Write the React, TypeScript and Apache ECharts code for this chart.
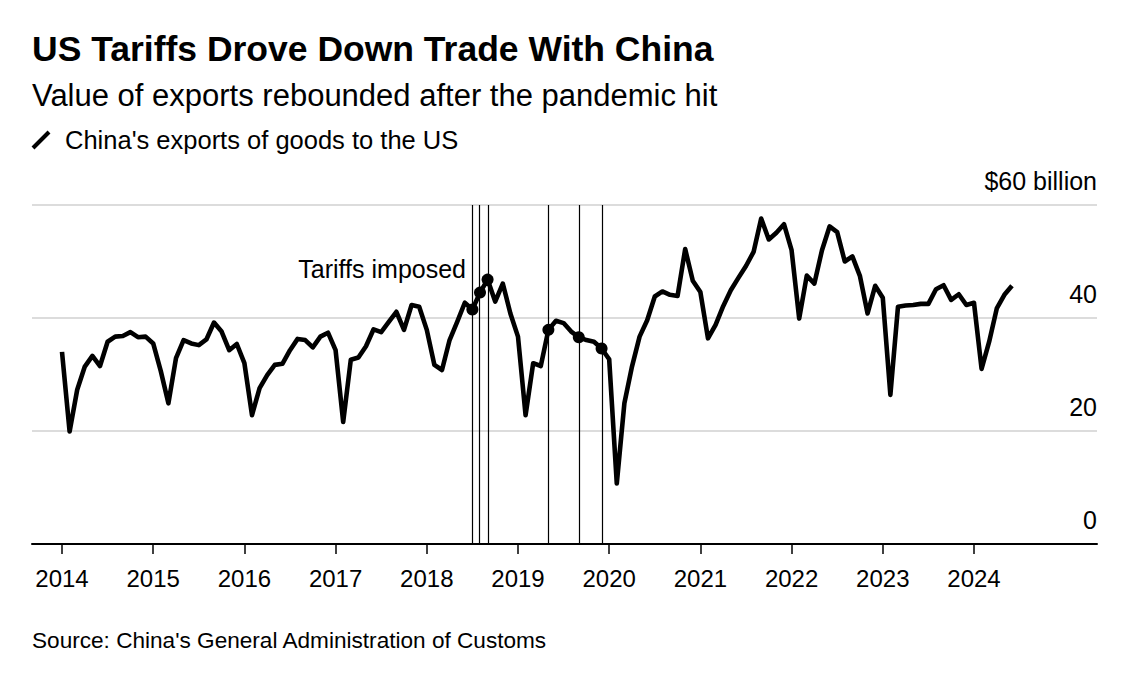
import React, { useEffect, useRef } from "react";
import * as echarts from "echarts";

// China's exports of goods to the US, $ billion, monthly (Jan..Dec)
const y2014 = [34.0, 19.9, 27.3, 31.4, 33.3, 31.5, 35.8, 36.7, 36.8, 37.5, 36.6, 36.7];
const y2015 = [35.5, 30.6, 24.9, 32.9, 36.1, 35.5, 35.2, 36.2, 39.2, 37.6, 34.3, 35.4];
const y2016 = [32.0, 22.8, 27.6, 29.9, 31.7, 31.9, 34.3, 36.3, 36.1, 34.8, 36.7, 37.4];
const y2017 = [34.3, 21.6, 32.6, 33.0, 35.0, 38.0, 37.5, 39.3, 41.1, 37.9, 42.3, 42.0];
const y2018 = [37.9, 31.7, 30.8, 36.1, 39.3, 42.7, 41.5, 44.5, 46.8, 42.9, 46.1, 40.8];
const y2019 = [36.7, 22.8, 32.0, 31.5, 37.9, 39.5, 39.1, 37.6, 36.6, 36.1, 35.8, 34.6];
const y2020 = [32.7, 10.7, 24.9, 31.4, 36.7, 39.6, 43.8, 44.7, 44.1, 43.9, 52.2, 46.6];
const y2021 = [44.6, 36.4, 38.8, 42.1, 44.9, 47.1, 49.2, 51.7, 57.6, 53.9, 55.1, 56.6];
const y2022 = [52.0, 39.9, 47.5, 46.1, 52.0, 56.2, 55.2, 50.0, 50.9, 47.4, 40.8, 45.7];
const y2023 = [43.6, 26.4, 42.0, 42.2, 42.3, 42.5, 42.5, 45.1, 45.8, 43.2, 44.2, 42.3];
const y2024 = [42.7, 31.0, 35.8, 41.7, 44.1, 45.7];

const years = [2014, 2015, 2016, 2017, 2018, 2019, 2020, 2021, 2022, 2023, 2024];
const yearly = [y2014, y2015, y2016, y2017, y2018, y2019, y2020, y2021, y2022, y2023, y2024];

// months when tariffs were imposed [year, month (1-12)]
const tariffMonths: [number, number][] = [
  [2018, 7], [2018, 8], [2018, 9], [2019, 5], [2019, 9], [2019, 12],
];

const yTicks = [0, 20, 40, 60];

const FONT = "'Liberation Sans', Arial, sans-serif";

export default function App() {
  const ref = useRef<HTMLDivElement>(null);
  useEffect(() => {
    if (!ref.current) return;
    const chart = echarts.init(ref.current, null, { renderer: "svg" });

    const lineData: [number, number][] = [];
    yearly.forEach((arr, yi) => {
      arr.forEach((v, m) => lineData.push([years[yi] + m / 12, v]));
    });
    const tariffX = tariffMonths.map(([y, m]) => y + (m - 1) / 12);
    const tariffPts = tariffMonths.map(([y, m]) => [
      y + (m - 1) / 12,
      yearly[years.indexOf(y)][m - 1],
    ]);

    chart.setOption({
      animation: false,
      backgroundColor: "#ffffff",
      textStyle: { fontFamily: FONT },
      grid: { left: 32, right: 31, top: 205, bottom: 135 },
      xAxis: {
        type: "value",
        min: 2013.671,
        max: 2025.349,
        splitLine: { show: false },
        axisLine: { show: true, lineStyle: { color: "#000", width: 2 } },
        axisTick: {
          show: true,
          length: 10,
          lineStyle: { color: "#000", width: 1.5 },
          customValues: years,
        },
        axisLabel: {
          customValues: years,
          formatter: (v: number) => String(Math.round(v)),
          color: "#000",
          fontSize: 24,
          fontFamily: FONT,
          margin: 22,
        },
      },
      yAxis: {
        type: "value",
        position: "right",
        min: 0,
        max: 60,
        interval: 20,
        axisLine: { show: false },
        axisTick: { show: false },
        splitLine: { show: true, lineStyle: { color: "#dcdcdc", width: 2 } },
        axisLabel: {
          inside: true,
          align: "right",
          verticalAlign: "bottom",
          margin: 0,
          padding: [0, 0, 12, 0],
          lineHeight: 25,
          color: "#000",
          fontSize: 25,
          fontFamily: FONT,
          formatter: (v: number) => (v === yTicks[yTicks.length - 1] ? "$60 billion" : String(v)),
        },
      },
      series: [
        {
          type: "line",
          data: lineData,
          showSymbol: false,
          lineStyle: { color: "#000", width: 4.6, join: "round" },
          z: 3,
          markLine: {
            silent: true,
            symbol: ["none", "none"],
            label: { show: false },
            lineStyle: { color: "#000", width: 1.2, type: "solid" },
            data: tariffX.map((x) => ({ xAxis: x })),
            z: 2,
          },
        },
        {
          type: "scatter",
          data: tariffPts,
          symbol: "circle",
          symbolSize: 12,
          itemStyle: { color: "#000", opacity: 1 },
          z: 4,
        },
      ],
      graphic: [
        {
          type: "text",
          x: 32,
          y: 49,
          style: {
            text: "US Tariffs Drove Down Trade With China",
            font: `bold 35.5px ${FONT}`,
            fill: "#000",
            verticalAlign: "middle",
          },
        },
        {
          type: "text",
          x: 32,
          y: 95,
          style: {
            text: "Value of exports rebounded after the pandemic hit",
            font: `31px ${FONT}`,
            fill: "#000",
            verticalAlign: "middle",
          },
        },
        {
          type: "line",
          shape: { x1: 33, y1: 148, x2: 49, y2: 132 },
          style: { stroke: "#000", lineWidth: 4 },
        },
        {
          type: "text",
          x: 65,
          y: 140,
          style: {
            text: "China's exports of goods to the US",
            font: `25.5px ${FONT}`,
            fill: "#000",
            verticalAlign: "middle",
          },
        },
        {
          type: "text",
          x: 466,
          y: 269,
          style: {
            text: "Tariffs imposed",
            font: `25px ${FONT}`,
            fill: "#000",
            align: "right",
            verticalAlign: "middle",
          },
        },
        {
          type: "text",
          x: 32,
          y: 640,
          style: {
            text: "Source: China's General Administration of Customs",
            font: `22.6px ${FONT}`,
            fill: "#000",
            verticalAlign: "middle",
          },
        },
      ],
    });
    return () => chart.dispose();
  }, []);

  return (
    <div
      ref={ref}
      style={{ position: "fixed", left: 0, top: 0, width: 1128, height: 679, background: "#fff" }}
    />
  );
}
